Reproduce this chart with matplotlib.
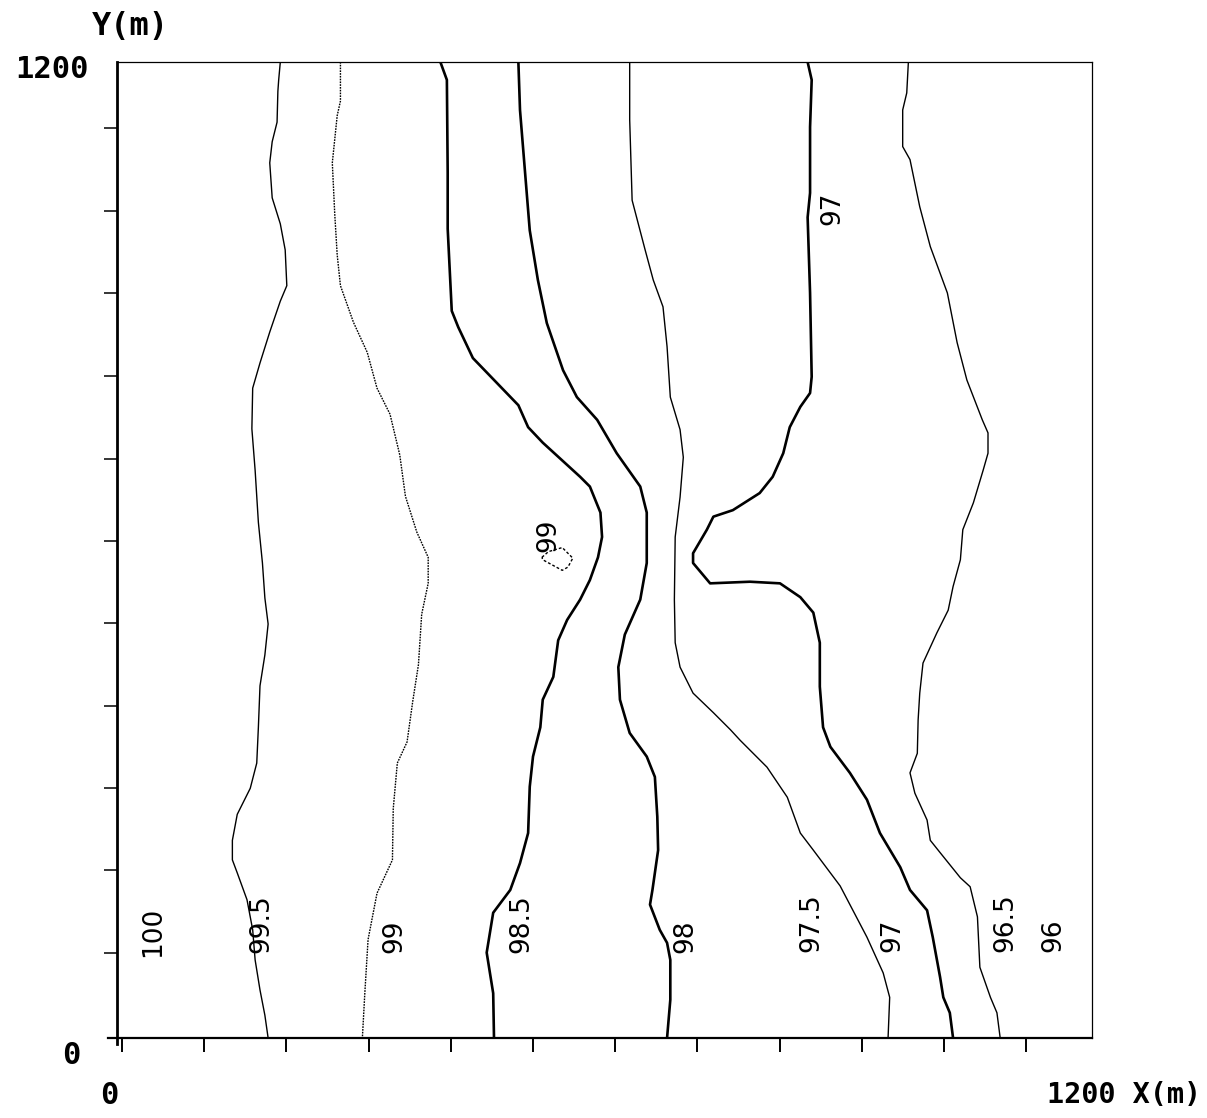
import matplotlib
matplotlib.use("Agg")
import matplotlib.pyplot as plt

# Digitised head contours (m), each traced from the top edge down to the bottom edge
A_x = [201, 199, 198, 197, 191, 188, 191, 201, 207, 209, 201, 188, 176, 167, 166, 170, 174, 179,
       182, 186, 182, 176, 174, 172, 164, 148, 142, 142, 148, 160, 167, 170, 176, 182, 186]
A_y = [1200, 1178, 1164, 1126, 1102, 1076, 1033, 1001, 969, 925, 906, 868, 830, 799, 749, 698, 634, 584,
       541, 509, 471, 433, 382, 338, 307, 275, 243, 219, 203, 170, 133, 96, 59, 28, 0]

B_x = [275, 275, 271, 265, 268, 271, 275, 291, 308, 320, 336, 348, 355, 369, 383, 383, 375, 371,
       364, 357, 345, 340, 339, 320, 309, 305, 302]
B_y = [1200, 1152, 1134, 1076, 1013, 963, 925, 880, 843, 799, 767, 717, 666, 622, 591, 559, 521, 459,
       414, 364, 338, 282, 219, 178, 121, 55, 0]

C_x = [398, 406, 407, 407, 412, 420, 438, 494, 506, 524, 570, 582, 595, 597, 592, 582, 570, 554,
       543, 537, 524, 521, 512, 508, 506, 496, 484, 463, 455, 463, 464]
C_y = [1200, 1178, 1064, 995, 894, 874, 836, 778, 751, 732, 690, 678, 646, 616, 591, 563, 539, 514,
       489, 444, 416, 382, 346, 309, 252, 215, 182, 154, 105, 55, 0]

D_x = [494, 496, 502, 508, 518, 529, 549, 566, 591, 615, 644, 652, 652, 644, 625, 617, 619, 631,
       652, 662, 665, 666, 659, 656, 668, 677, 681, 681, 677]
D_y = [1200, 1141, 1067, 993, 932, 879, 821, 788, 760, 719, 678, 646, 584, 539, 496, 456, 416, 375,
       346, 321, 272, 231, 182, 164, 133, 117, 96, 47, 0]

E_x = [631, 631, 634, 650, 660, 672, 677, 681, 693, 697, 693, 687, 686, 687, 693, 709, 734, 755,
       767, 800, 825, 841, 857, 890, 923, 943, 951, 949]
E_y = [1200, 1129, 1030, 969, 932, 899, 850, 788, 748, 714, 665, 616, 539, 486, 456, 424, 400, 379,
       366, 333, 296, 252, 231, 187, 124, 80, 50, 0]

F_x = [850, 855, 853, 853, 850, 853, 855, 853, 841, 828, 820, 807, 791, 758, 734, 726, 709, 709,
       730, 779, 816, 841, 857, 865, 865, 869, 878, 902, 923, 939, 964, 976, 997, 1004, 1013, 1017,
       1025, 1029]
F_y = [1200, 1178, 1120, 1039, 1009, 916, 813, 793, 776, 751, 719, 690, 670, 649, 641, 625, 596, 584,
       559, 561, 559, 542, 523, 486, 432, 382, 358, 326, 293, 252, 210, 182, 157, 124, 75, 50,
       31, 0]

G_x = [974, 972, 967, 967, 976, 988, 1001, 1022, 1034, 1046, 1065, 1072, 1072, 1066, 1054, 1041, 1038,
       1029, 1023, 1009, 992, 988, 986, 985, 976, 982, 997, 1001, 1013, 1038, 1050, 1059, 1062, 1075,
       1083, 1087]
G_y = [1200, 1162, 1141, 1096, 1080, 1022, 973, 916, 855, 809, 760, 744, 719, 698, 658, 625, 588,
       555, 526, 498, 461, 424, 391, 350, 326, 301, 268, 243, 228, 197, 186, 149, 87, 50,
       31, 0]

# small closed 99 m contour
P_x = [523, 531, 548, 561, 555, 548, 535, 524, 523]
P_y = [591, 598, 603, 590, 579, 575, 582, 588, 591]

# contour labels: text, x centre, y of lower end (m)
label_text = ["100", "99.5", "99", "98.5", "98", "97.5", "97", "96.5", "96", "97", "99"]
label_x = [44, 178, 341, 498, 699, 855, 954, 1094, 1152, 880, 531]
label_y = [100, 104, 104, 104, 104, 106, 106, 106, 106, 1000, 598]

x_ticks = [6, 107, 208, 310, 411, 512, 613, 714, 816, 917, 1018, 1119]
y_ticks = [104, 207, 307, 408, 510, 611, 712, 814, 916, 1017, 1119]

fig = plt.figure(figsize=(12.07, 11.18), dpi=100)
ax = fig.add_axes([117 / 1207, 80 / 1118, 975 / 1207, 976 / 1118])

thin = dict(color="black", lw=1.0)
thick = dict(color="black", lw=1.9)
ax.plot(A_x, A_y, **thin)
ax.plot(B_x, B_y, color="black", lw=1.0, ls=(0, (1.2, 0.8)))
ax.plot(C_x, C_y, **thick)
ax.plot(D_x, D_y, **thick)
ax.plot(E_x, E_y, **thin)
ax.plot(F_x, F_y, **thick)
ax.plot(G_x, G_y, **thin)
ax.plot(P_x, P_y, color="black", lw=1.0, ls=(0, (2, 1.5)))

for t, x, y in zip(label_text, label_x, label_y):
    ax.text(x, y, t, rotation=90, ha="center", va="bottom", fontsize=19,
            family="DejaVu Sans", color="black")

ax.set_xlim(0, 1200)
ax.set_ylim(0, 1200)
ax.set_xticks(x_ticks)
ax.set_yticks(y_ticks)
ax.set_xticklabels([])
ax.set_yticklabels([])
ax.tick_params(axis="y", direction="out", length=9.5, width=1.1, color="black")
ax.tick_params(axis="x", direction="out", length=10, width=1.4, color="black")

ax.spines["left"].set_linewidth(2.0)
ax.spines["bottom"].set_linewidth(1.6)
ax.spines["top"].set_linewidth(0.9)
ax.spines["right"].set_linewidth(0.9)
ax.spines["bottom"].set_bounds(-11, 1200)
ax.spines["left"].set_bounds(-7, 1200)

lab = dict(family="DejaVu Sans Mono", fontweight="bold", color="black")
W, H = 1207, 1118
fig.text(92 / W, 1 - 27 / H, "Y(m)", fontsize=23, va="center", ha="left", **lab)
fig.text(15 / W, 1 - 69 / H, "1200", fontsize=22, va="center", ha="left", **lab)
fig.text(62 / W, 1 - 1055 / H, "0", fontsize=22, va="center", ha="left", **lab)
fig.text(100 / W, 1 - 1095 / H, "0", fontsize=22, va="center", ha="left", **lab)
fig.text(1047 / W, 1 - 1095 / H, "1200 X(m)", fontsize=20.5, va="center", ha="left", **lab)

fig.savefig("out.png", dpi=100)
